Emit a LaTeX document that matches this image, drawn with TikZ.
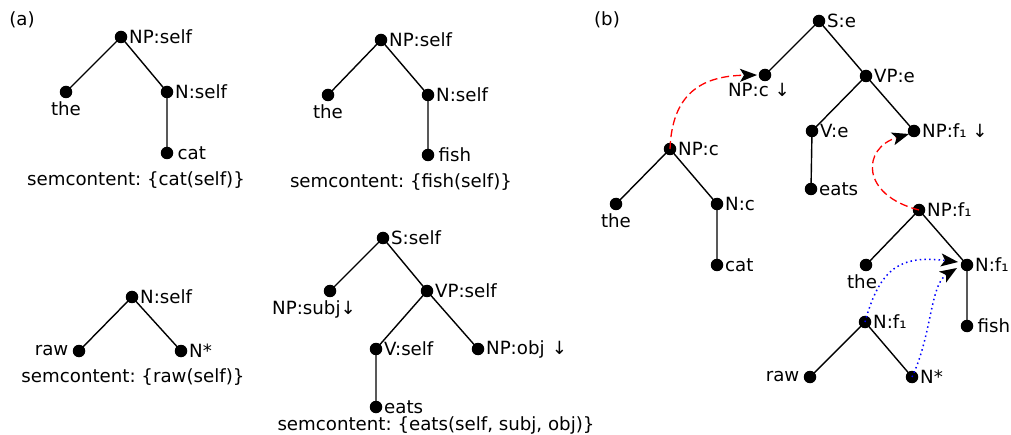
\documentclass[tikz,border=0pt]{standalone}
\usepackage{fontspec}
\setmainfont{DejaVu Sans}
\usetikzlibrary{arrows.meta}
\begin{document}
\frenchspacing
\begin{tikzpicture}[x=1pt,y=-1pt,
  dot/.style={circle,fill=black,inner sep=0pt,minimum size=12.5pt},
  txt/.style={font=\fontsize{18.2}{21}\selectfont\frenchspacing,inner sep=1pt},
  every label/.style={txt},
  label distance=0.5pt,
  edge/.style={line width=1.4pt},
  redlink/.style={red,line width=1.3pt,dash pattern=on 8pt off 4pt,-{Stealth[length=17pt,width=13pt,inset=4pt,color=black]}},
  bluelink/.style={blue,line width=1.5pt,dash pattern=on 1.5pt off 3.2pt,-{Stealth[length=17pt,width=13pt,inset=4pt,color=black]}}]
\useasboundingbox (0,0) rectangle (1011,435);

% (a)
\node[txt] (la) at (22,20) {(a)};
% tree 1
\node[dot,label={right:{NP:self}}] (a1np) at (121,37) {};
\node[dot,label={[label distance=2pt]below:{the}}] (a1the) at (66,92) {};
\node[dot,label={right:{N:self}}] (a1n) at (167,92) {};
\node[dot,label={[label distance=3pt]right:{cat}}] (a1cat) at (167,153) {};
\node[txt] (sem1) at (136,180) {semcontent: \{cat(self)\}};
\draw[edge] (a1np.center) -- (a1the.center) (a1np.center) -- (a1n.center) -- (a1cat.center);
% tree 2
\node[dot,label={right:{NP:self}}] (a2np) at (381,40) {};
\node[dot,label={[label distance=2pt]below:{the}}] (a2the) at (328,95) {};
\node[dot,label={right:{N:self}}] (a2n) at (428,95) {};
\node[dot,label={[label distance=3pt]right:{fish}}] (a2fish) at (428,155) {};
\node[txt] (sem2) at (401,182) {semcontent: \{fish(self)\}};
\draw[edge] (a2np.center) -- (a2the.center) (a2np.center) -- (a2n.center) -- (a2fish.center);
% tree 3
\node[dot,label={right:{N:self}}] (a3n) at (132,297) {};
\node[dot,label={[label distance=3pt]left:{raw}}] (a3raw) at (79,351) {};
\node[dot,label={right:{N*}}] (a3star) at (181,351) {};
\node[txt] (sem3) at (133,377) {semcontent: \{raw(self)\}};
\draw[edge] (a3n.center) -- (a3raw.center) (a3n.center) -- (a3star.center);
% tree 4
\node[dot,label={right:{S:self}}] (a4s) at (383,238) {};
\node[dot,label={[xshift=-16pt,label distance=2pt]below:{NP:subj↓}}] (a4subj) at (330,291) {};
\node[dot,label={right:{VP:self}}] (a4vp) at (427,291) {};
\node[dot,label={right:{V:self}}] (a4v) at (376,349) {};
\node[dot,label={right:{NP:obj\hspace{0.4em}↓}}] (a4obj) at (478,349) {};
\node[dot,label={right:{eats}}] (a4eats) at (376,407) {};
\node[txt] (sem4) at (436,425) {semcontent: \{eats(self, subj, obj)\}};
\draw[edge] (a4s.center) -- (a4subj.center) (a4s.center) -- (a4vp.center) -- (a4v.center) -- (a4eats.center)
  (a4vp.center) -- (a4obj.center);

% (b)
\node[txt] (lb) at (607,20) {(b)};
\node[dot,label={right:{S:e}}] (bs) at (819,21) {};
\node[dot,label={[xshift=-6pt,label distance=1pt]below:{NP:c ↓}}] (bnpc) at (765,75) {};
\node[dot,label={right:{VP:e}}] (bvp) at (866,76) {};
\node[dot,label={right:{V:e}}] (bv) at (812,131) {};
\node[dot,label={right:{eats}}] (beats) at (811,189) {};
\node[dot,label={right:{NP:f₁ ↓}}] (bnpf) at (914,131) {};
\draw[edge] (bs.center) -- (bnpc.center) (bs.center) -- (bvp.center) -- (bv.center) -- (beats.center)
  (bvp.center) -- (bnpf.center);

\node[dot,label={right:{NP:c}}] (bnpc2) at (670,149) {};
\node[dot,label={[label distance=2pt]below:{the}}] (bthe1) at (616,204) {};
\node[dot,label={right:{N:c}}] (bnc) at (717,204) {};
\node[dot,label={right:{cat}}] (bcat) at (717,265) {};
\draw[edge] (bnpc2.center) -- (bthe1.center) (bnpc2.center) -- (bnc.center) -- (bcat.center);

\node[dot,label={right:{NP:f₁}}] (bnpf2) at (919,210) {};
\node[dot,label={[xshift=-4pt,label distance=2pt]below:{the}}] (bthe2) at (866,265) {};
\node[dot,label={right:{N:f₁}}] (bnf) at (967,265) {};
\node[dot,label={[label distance=3pt]right:{fish}}] (bfish) at (967,326) {};
\draw[edge] (bnpf2.center) -- (bthe2.center) (bnpf2.center) -- (bnf.center) -- (bfish.center);

\node[dot,label={right:{N:f₁}}] (bnf2) at (865,322) {};
\node[dot,label={[label distance=3pt]left:{raw}}] (braw) at (810,377) {};
\node[dot,label={right:{N*}}] (bstar) at (912,377) {};
\draw[edge] (bnf2.center) -- (braw.center) (bnf2.center) -- (bstar.center);

% links
\coordinate (t1) at (757,75);
\coordinate (t2) at (909,134);
\coordinate (t3) at (958,262);
\coordinate (t4) at (957,268);
\draw[redlink] (bnpc2.center) .. controls (672,95) and (700,76) .. (t1);
\draw[redlink] (bnpf2.center) .. controls (860,195) and (862,148) .. (t2);
\draw[bluelink] (bnf2.center) .. controls (880,268) and (900,255) .. (t3);
\draw[bluelink] (bstar.center) .. controls (932,335) and (930,285) .. (t4);
\end{tikzpicture}
\end{document}
